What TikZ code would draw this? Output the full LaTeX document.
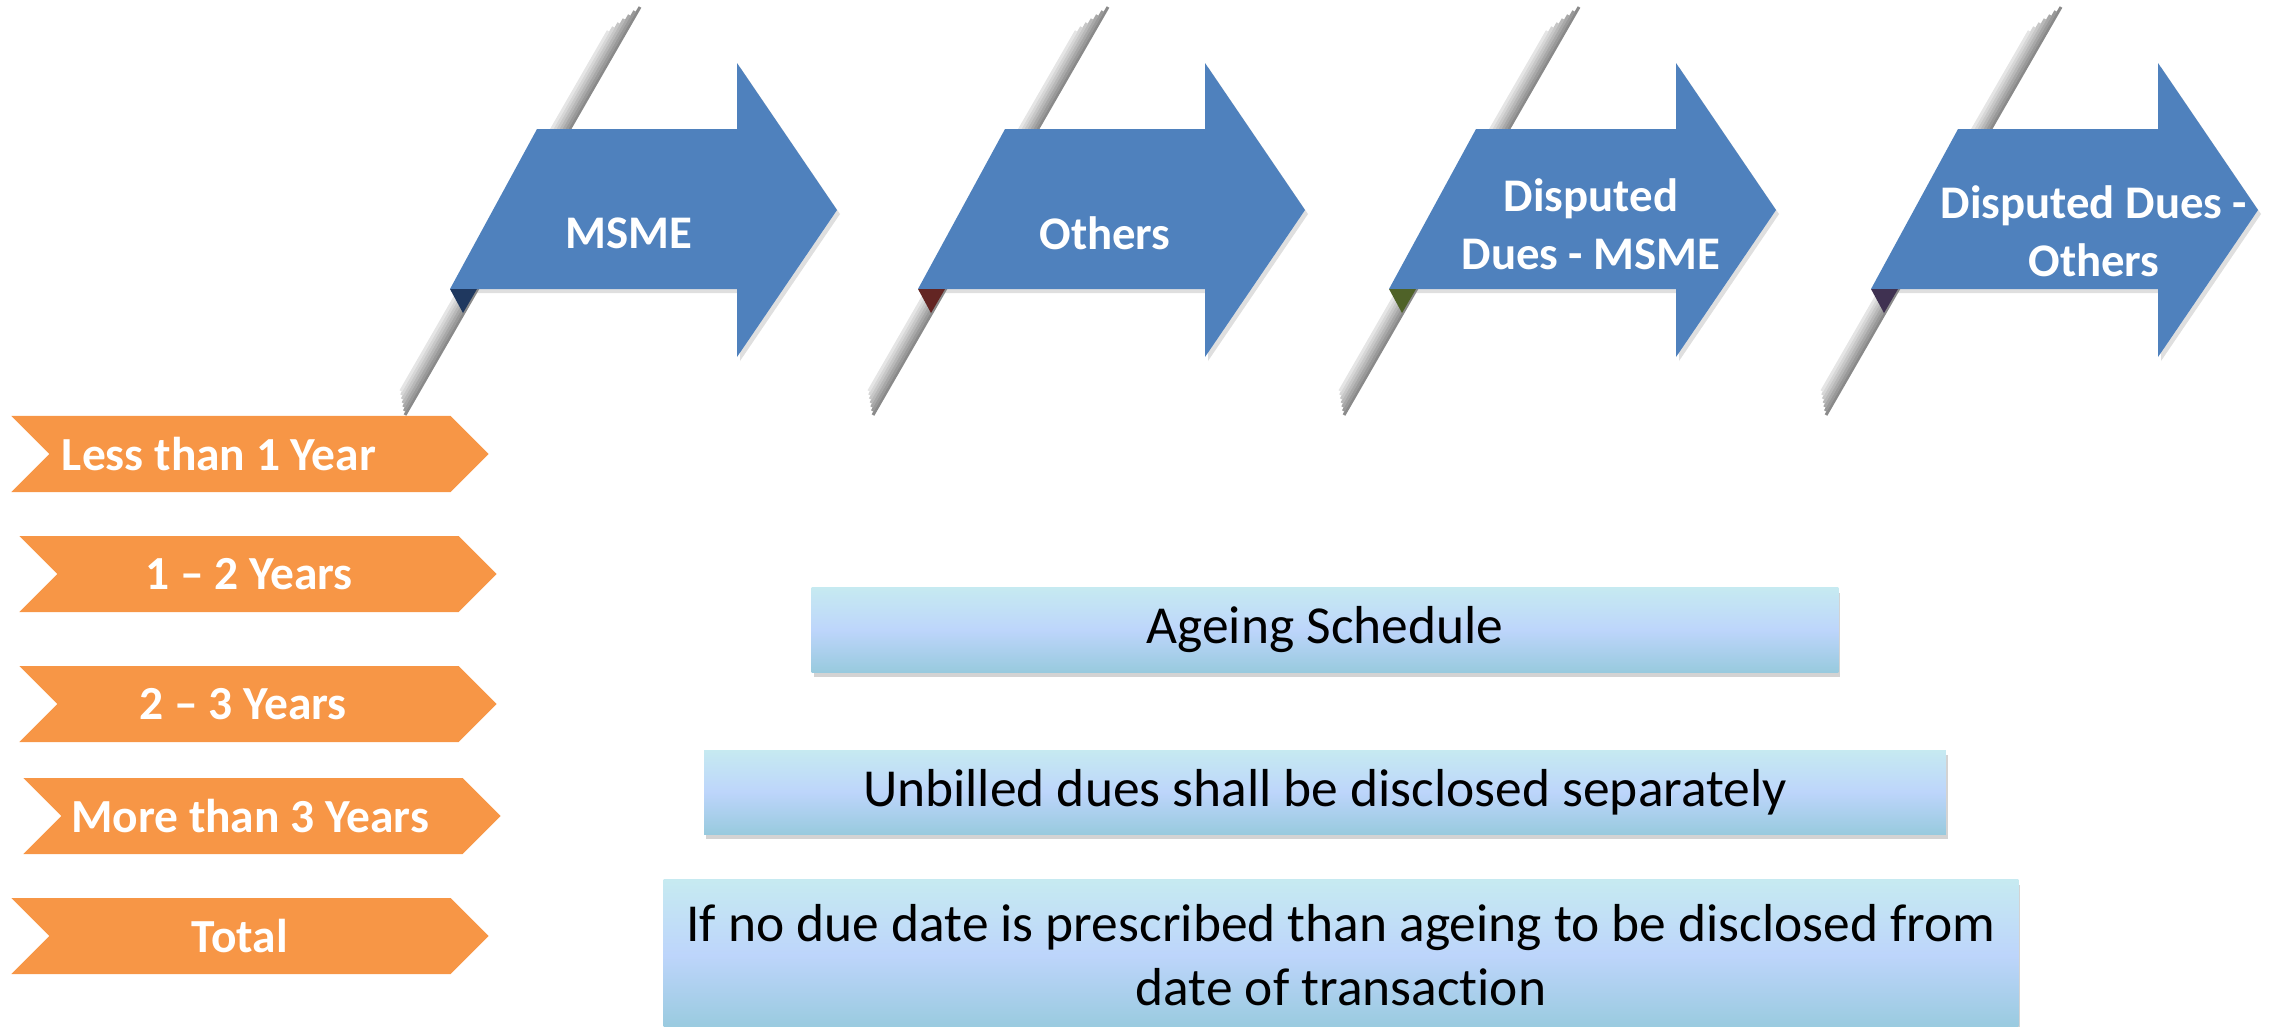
\documentclass[tikz,border=0pt]{standalone}
\usepackage{fontspec}
\setmainfont{Carlito}[Ligatures=NoCommon]
\usetikzlibrary{positioning, shapes.symbols, shadows}

\definecolor{ArrowBlue}{RGB}{79,129,189}
\definecolor{AgeOrange}{RGB}{247,150,70}
\definecolor{FoldNavy}{RGB}{31,56,95}
\definecolor{FoldRed}{RGB}{99,37,35}
\definecolor{FoldOlive}{RGB}{79,98,40}
\definecolor{FoldPurple}{RGB}{63,49,81}
\definecolor{BoxTop}{RGB}{198,234,241}
\definecolor{BoxMid}{RGB}{189,213,251}
\definecolor{BoxBot}{RGB}{152,202,222}

\begin{document}
\begin{tikzpicture}[x=0.01cm, y=-0.01cm]
        \tikzstyle{agebox} = [signal, signal from=west, signal to=east, signal pointer angle=90, fill=AgeOrange, minimum width=4.77cm, minimum height=0.76cm, inner sep=0pt]
        \tikzstyle{agetext} = [text=white, font=\fontsize{13.5}{16}\selectfont\bfseries]
        \tikzstyle{notebox} = [rectangle, top color=BoxTop, bottom color=BoxBot, middle color=BoxMid, drop shadow={shadow xshift=0.02cm, shadow yshift=-0.05cm, opacity=0.35}, font=\fontsize{15.2}{18}\selectfont, align=center, inner sep=0pt]
        \tikzstyle{headlabel} = [text=white, font=\fontsize{13.3}{16.5}\selectfont\bfseries, align=center]
        \tikzstyle{headarrow} = [fill=ArrowBlue, drop shadow={shadow xshift=0.03cm, shadow yshift=-0.04cm, opacity=0.25}]

        \useasboundingbox (0,0) rectangle (2270,1026);

        % Arrows across the top, each folded over a page crease
        \foreach \dx/\fc/\lx/\ly/\nm/\txt in {0/FoldNavy/629/233/msme/{MSME}, 468/FoldRed/1105/233/others/{Others}, 939/FoldOlive/1591/224/dmsme/{Disputed\\Dues - MSME}, 1421/FoldPurple/2094/231/dothers/{Disputed Dues -\\Others}} {
            \foreach \k in {0,...,6} {
                \pgfmathtruncatemacro\pc{46-6*\k}
                \draw[line width=0.85pt, black!\pc] ({640+\dx-3*\k-2.3*\k},{7+4*\k}) -- ({405+\dx-3*\k+2.3*\k},{415-4*\k});
            }
            \path[headarrow] (450+\dx,289) -- (537+\dx,129) -- (737+\dx,129) -- (737+\dx,63) -- (837+\dx,210) -- (737+\dx,357) -- (737+\dx,289) -- cycle;
            \fill[\fc] (450+\dx,289) -- (477+\dx,289) -- (463+\dx,313) -- cycle;
            \node[headlabel] (\nm) at (\lx,\ly) {\txt};
        }

        % Ageing buckets
        \node[agebox, label={[agetext, xshift=-0.31cm]center:Less than 1 Year}] (lt1) at (250,454) {};
        \node[agebox, label={[agetext, xshift=-0.09cm]center:1 – 2 Years}] (y12) at (258,574) {};
        \node[agebox, label={[agetext, xshift=-0.15cm]center:2 – 3 Years}] (y23) at (258,704) {};
        \node[agebox, label={[agetext, xshift=-0.12cm]center:More than 3 Years}] (mt3) at (262,816) {};
        \node[agebox, label={[agetext, xshift=-0.10cm]center:Total}] (total) at (250,936) {};

        % Notes
        \node[notebox, minimum width=10.26cm, minimum height=0.84cm] (ageing) at (1325,630) {Ageing Schedule};
        \node[notebox, minimum width=12.41cm, minimum height=0.84cm] (unbilled) at (1325,792) {Unbilled dues shall be disclosed separately};
        \node[notebox, minimum width=13.54cm, minimum height=1.50cm] (nodue) at (1341,955) {If no due date is prescribed than ageing to be disclosed from\\date of transaction};
\end{tikzpicture}
\end{document}
